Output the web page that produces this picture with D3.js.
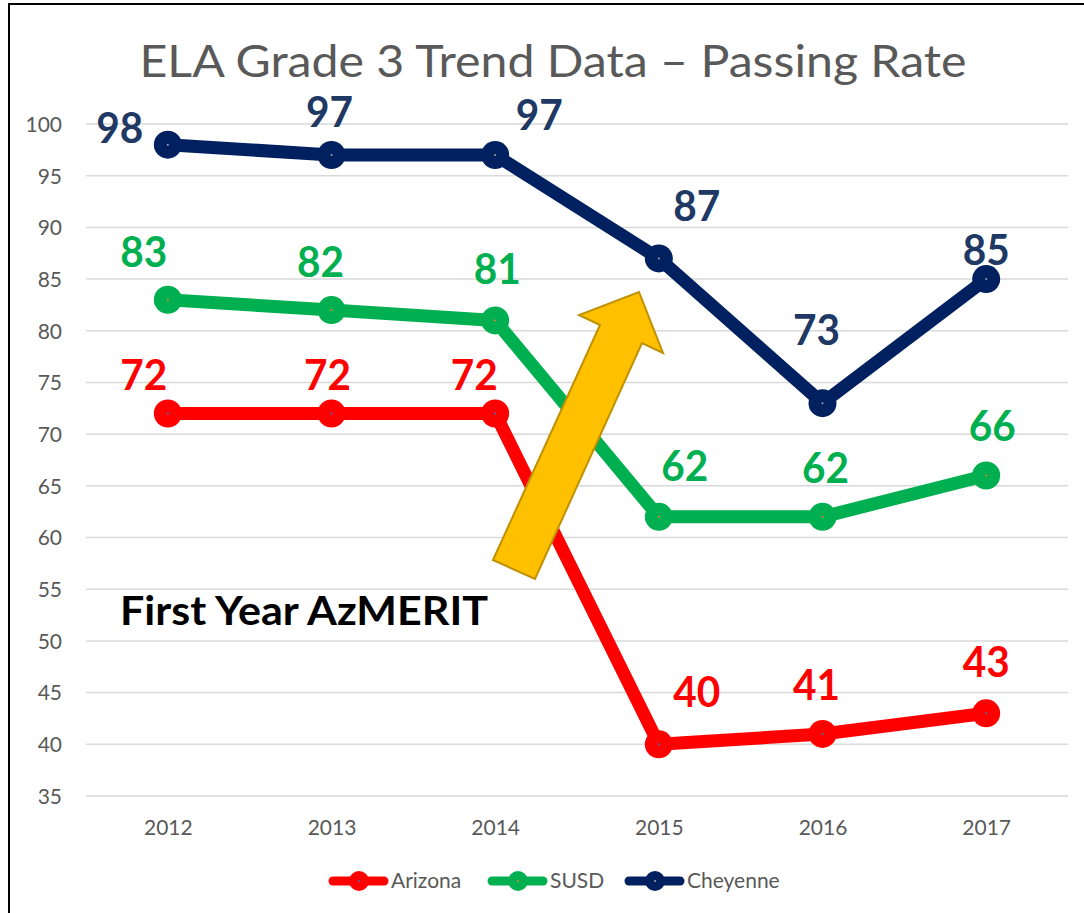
<!DOCTYPE html>
<html><head><meta charset="utf-8">
<script src="https://cdn.jsdelivr.net/npm/d3@7"></script>
<style>body{margin:0;background:#fff}svg{display:block}</style>
</head><body>
<svg id="c" width="1084" height="913"></svg>
<script>
const years = ["2012","2013","2014","2015","2016","2017"];
const arizona = [72,72,72,40,41,43];
const susd = [83,82,81,62,62,66];
const cheyenne = [98,97,97,87,73,85];
const yTicks = [35,40,45,50,55,60,65,70,75,80,85,90,95,100];
const seriesNames = ["Arizona","SUSD","Cheyenne"];
const titleText = "ELA Grade 3 Trend Data \u2013 Passing Rate";
const noteText = "First Year AzMERIT";

// label offsets (layout only)
const offAz = [[-24,-23],[-4,-23],[-21,-23],[38,-37],[-6,-34],[0,-36]];
const offSu = [[-24,-33],[-11,-33],[2,-36],[26,-36],[3,-34],[6,-35]];
const offCh = [[-48,-2],[-2,-28],[44,-25],[38,-37],[-6,-58],[0,-14]];

const svg = d3.select("#c");
const F = "Lato, 'Open Sans', sans-serif";

// border
svg.append("rect").attr("x",9).attr("y",4).attr("width",1100).attr("height",950)
  .attr("fill","#fff").attr("stroke","#000").attr("stroke-width",2);

const x = d3.scalePoint().domain(years).range([86,1068]).padding(0.5);
const y = d3.scaleLinear().domain([35,100]).range([796,124]);

// gridlines
svg.append("g").selectAll("line").data(yTicks).join("line")
  .attr("x1",86).attr("x2",1068).attr("y1",d=>y(d)).attr("y2",d=>y(d))
  .attr("stroke","#D9D9D9").attr("stroke-width",1.5);

// y axis
const yAxis = d3.axisLeft(y).tickValues(yTicks).tickSize(0).tickPadding(0);
const gy = svg.append("g").attr("transform","translate(62,0)").call(yAxis);
gy.select(".domain").remove();
gy.selectAll("text").attr("font-family",F).attr("font-size",21).attr("fill","#595959").attr("dy","0.35em");

// x axis
const xAxis = d3.axisBottom(x).tickSize(0).tickPadding(0);
const gx = svg.append("g").attr("transform","translate(0,835)").call(xAxis);
gx.select(".domain").remove();
gx.selectAll("text").attr("font-family",F).attr("font-size",21).attr("fill","#595959").attr("dy","0");

// title
svg.append("text").attr("x",553).attr("y",77).attr("text-anchor","middle")
  .attr("font-family",F).attr("font-size",45).attr("fill","#595959")
  .attr("textLength",827).attr("lengthAdjust","spacingAndGlyphs").text(titleText);

const series = [
  {name:"Arizona", vals:arizona, color:"#FF0000", label:"#FF0000", dot:"#4472C4", off:offAz},
  {name:"SUSD", vals:susd, color:"#00B050", label:"#00B050", dot:"#ED7D31", off:offSu},
  {name:"Cheyenne", vals:cheyenne, color:"#002060", label:"#203864", dot:"#A5A5A5", off:offCh}
];

const line = d3.line().x((d,i)=>x(years[i])).y(d=>y(d));
series.forEach(s=>{
  const g = svg.append("g");
  g.append("path").attr("d",line(s.vals)).attr("fill","none").attr("stroke",s.color)
    .attr("stroke-width",13).attr("stroke-linejoin","round");
  g.selectAll("circle.m").data(s.vals).join("circle").attr("class","m")
    .attr("cx",(d,i)=>x(years[i])).attr("cy",d=>y(d)).attr("r",14).attr("fill",s.color);
  g.selectAll("circle.d").data(s.vals).join("circle").attr("class","d")
    .attr("cx",(d,i)=>x(years[i])).attr("cy",d=>y(d)).attr("r",1).attr("fill",s.dot);
});
series.forEach(s=>{
  svg.append("g").selectAll("text").data(s.vals).join("text")
    .attr("x",(d,i)=>x(years[i])+s.off[i][0]).attr("y",(d,i)=>y(d)+s.off[i][1])
    .attr("text-anchor","middle").attr("font-family",F).attr("font-weight",700)
    .attr("font-size",42).attr("fill",s.label)
    .attr("textLength",47).attr("lengthAdjust","spacingAndGlyphs").text(d=>d);
});

// arrow
const arrowPts = [[493,560],[535,579],[642,343],[663,353],[639,292],[579,315],[600,325]];
svg.append("polygon").attr("points",arrowPts.map(p=>p.join(",")).join(" "))
  .attr("fill","#FFC000").attr("stroke","#BF9000").attr("stroke-width",2).attr("stroke-linejoin","miter");

// note
svg.append("text").attr("x",120).attr("y",625).attr("font-family",F)
  .attr("font-weight",700).attr("font-size",40).attr("fill","#000")
  .attr("textLength",368).attr("lengthAdjust","spacingAndGlyphs").text(noteText);

// legend
const legX = [329,488,625];
const lg = svg.append("g");
series.forEach((s,i)=>{
  const x0 = legX[i];
  lg.append("line").attr("x1",x0+4).attr("x2",x0+55).attr("y1",881).attr("y2",881)
    .attr("stroke",s.color).attr("stroke-width",9).attr("stroke-linecap","round");
  lg.append("circle").attr("cx",x0+30).attr("cy",881).attr("r",10).attr("fill",s.color);
  lg.append("circle").attr("cx",x0+30).attr("cy",881).attr("r",1).attr("fill",s.dot);
  lg.append("text").attr("x",x0+62).attr("y",888).attr("font-family",F).attr("font-size",21)
    .attr("fill","#595959").text(seriesNames[i]);
});
</script>
</body></html>
